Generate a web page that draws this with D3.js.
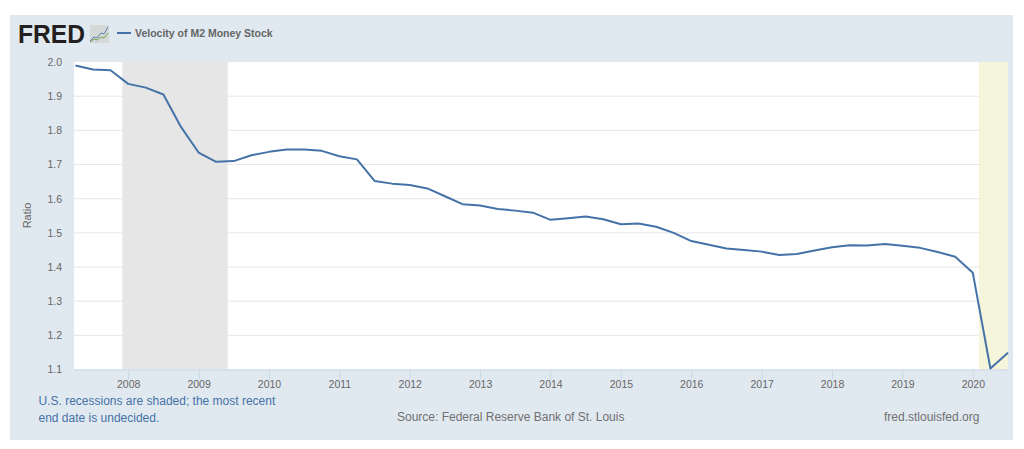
<!DOCTYPE html>
<html><head><meta charset="utf-8">
<script src="https://cdn.jsdelivr.net/npm/d3@7/dist/d3.min.js"></script>
<style>html,body{margin:0;padding:0;background:#fff}svg{display:block}text{font-family:"Liberation Sans",Arial,sans-serif}</style>
</head><body><svg id="c" width="1024" height="449"></svg>
<script>
const startYear = 2007.25;
const velocity = [1.99,1.978,1.976,1.936,1.925,1.905,1.81,1.735,1.708,1.71,1.727,1.737,1.744,1.744,1.74,1.724,1.715,1.652,1.644,1.64,1.63,1.607,1.584,1.58,1.57,1.565,1.559,1.538,1.543,1.548,1.54,1.525,1.527,1.518,1.5,1.476,1.465,1.454,1.45,1.445,1.435,1.438,1.448,1.458,1.464,1.463,1.467,1.462,1.456,1.444,1.43,1.383,1.103,1.149];
const yTicks = [1.1,1.2,1.3,1.4,1.5,1.6,1.7,1.8,1.9,2.0];
const xTicks = [2008,2009,2010,2011,2012,2013,2014,2015,2016,2017,2018,2019,2020];
const recessions = [[2007.92,2009.41,"#e6e6e6"],[2020.09,2020.5,"#f5f5dc"]];
const seriesName = "Velocity of M2 Money Stock";

const svg = d3.select("#c");
const L=74,R=1008,T=62,B=369.5;
const x = d3.scaleLinear().domain([2007.23,2020.5]).range([L,R]);
const y = d3.scaleLinear().domain([1.1,2.0]).range([B,T]);
const line = d3.line().x((d,i)=>x(startYear+i/4)).y(d=>y(d)).curve(d3.curveLinear);

svg.append("rect").attr("x",10).attr("y",15).attr("width",1003).attr("height",425).attr("fill","#e1e9f0");
svg.append("rect").attr("x",L).attr("y",T).attr("width",R-L).attr("height",B-T).attr("fill","#fff");
svg.selectAll(".rec").data(recessions).join("rect").attr("x",d=>x(d[0])).attr("y",T).attr("width",d=>x(d[1])-x(d[0])).attr("height",B-T).attr("fill",d=>d[2]);

const gy = svg.append("g").attr("transform",`translate(${L},0)`).call(d3.axisLeft(y).tickValues(yTicks).tickFormat(d3.format(".1f")).tickSize(0).tickPadding(12));
gy.select(".domain").remove();
gy.selectAll("text").attr("font-size",10.5).attr("fill","#666").attr("font-weight",400).style("font-family",'"Liberation Sans",Arial,sans-serif');
svg.append("g").selectAll("line").data(yTicks.filter(d=>d>1.1&&d<2)).join("line")
 .attr("x1",d=>L).attr("x2",R).attr("y1",d=>y(d)).attr("y2",d=>y(d)).attr("stroke","#e6e6e6").attr("stroke-width",1);
svg.selectAll(".rec2").data(recessions).join("rect").attr("x",d=>x(d[0])).attr("y",T).attr("width",d=>x(d[1])-x(d[0])).attr("height",B-T).attr("fill",d=>d[2]);

const gx = svg.append("g").attr("transform",`translate(0,${B})`).call(d3.axisBottom(x).tickValues(xTicks).tickFormat(d3.format("d")).tickSize(10).tickPadding(-1));
gx.select(".domain").attr("stroke","#ccd6eb").attr("d",`M${L},0.5H${R}`);
gx.selectAll("line").attr("stroke","#ccd6eb");
gx.selectAll("text").attr("font-size",10.5).attr("fill","#666").attr("dy","0.9em").style("font-family",'"Liberation Sans",Arial,sans-serif');

svg.append("path").datum(velocity).attr("d",line).attr("fill","none").attr("stroke","#4572a7").attr("stroke-width",2).attr("stroke-linejoin","round");

svg.append("text").attr("transform","translate(31,215.5) rotate(-90)").attr("text-anchor","middle").attr("font-size",11).attr("fill","#666").text("Ratio");

// header
svg.append("text").attr("x",18).attr("y",43).attr("font-size",25).attr("font-weight",700).attr("fill","#231f20").attr("textLength",67).attr("lengthAdjust","spacingAndGlyphs").text("FRED");
const icon = svg.append("g").attr("transform","translate(90,25)");
icon.append("rect").attr("width",19).attr("height",18).attr("fill","#d4d8d6");
const iconA=[[0,16],[4,12],[7,13],[11,8],[14,9],[18,2]], iconB=[[0,17],[4,14],[7,15],[11,12],[14,13],[18,8]];
icon.append("path").attr("d",d3.line()(iconA)).attr("fill","none").attr("stroke","#5d83ad").attr("stroke-width",1);
icon.append("path").attr("d",d3.line()(iconB)).attr("fill","none").attr("stroke","#7ca35c").attr("stroke-width",1);
svg.append("line").attr("x1",117).attr("x2",131).attr("y1",33).attr("y2",33).attr("stroke","#4572a7").attr("stroke-width",2);
svg.append("text").attr("x",135).attr("y",37).attr("font-size",10.5).attr("font-weight",700).attr("fill","#666").text(seriesName);

// footer
const foot=[["U.S. recessions are shaded; the most recent",38.5,405,"#4572a7","start"],["end date is undecided.",38.5,422,"#4572a7","start"],["Source: Federal Reserve Bank of St. Louis",397,421,"#707070","start"],["fred.stlouisfed.org",884,421,"#707070","start"]];
svg.selectAll(".f").data(foot).join("text").attr("x",d=>d[1]).attr("y",d=>d[2]).attr("fill",d=>d[3]).attr("font-size",12).text(d=>d[0]);
</script></body></html>
